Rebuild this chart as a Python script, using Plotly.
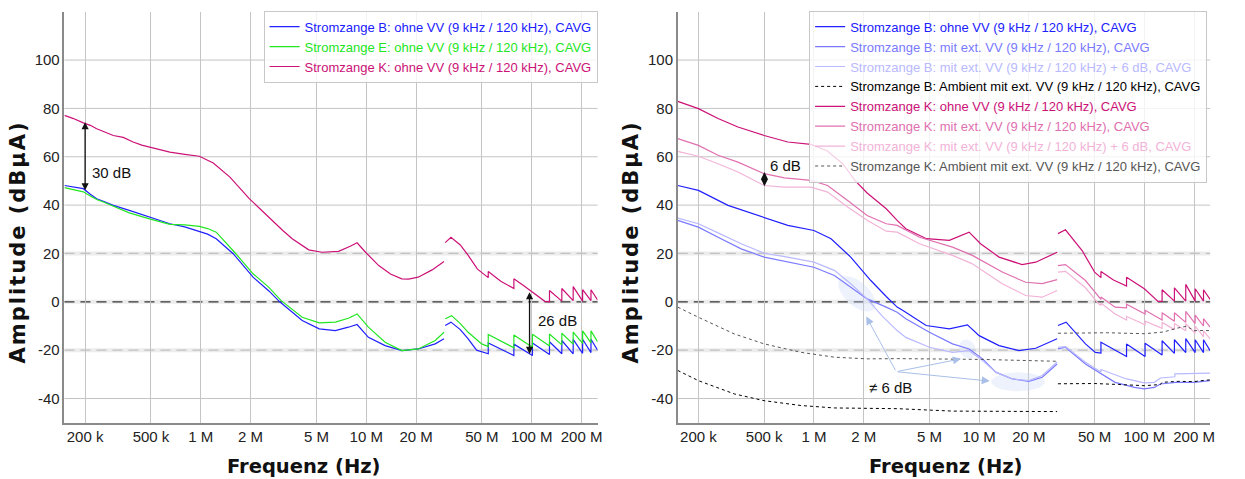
import math
import plotly.graph_objects as go

# ---------------- data: frequency in MHz, amplitude in dBµA ----------------
x_tick_vals_mhz = [0.2, 0.5, 1, 2, 5, 10, 20, 50, 100, 200]
x_tick_text = ["200 k", "500 k", "1 M", "2 M", "5 M", "10 M", "20 M", "50 M", "100 M", "200 M"]
y_tick_vals = [-40, -20, 0, 20, 40, 60, 80, 100]
y_tick_text = ["-40", "-20", "0", "20", "40", "60", "80", "100"]

# ---- left chart ----
left_B_f = [0.15, 0.17, 0.195, 0.215, 0.235, 0.26, 0.296, 0.37, 0.49, 0.65, 0.8, 0.98, 1.1, 1.24, 1.57, 2.07, 2.58, 3.0, 4.1, 5.2, 6.5, 7.8, 8.8, 10.3, 13.0, 16.4, 20.6, 26.1, 29.5, None,
            30.0, 32.5, 37, 41.3, 46.4, 54.6, 54.6, 78, 78, 101, 101, 128, 128, 152, 152, 178, 178, 203, 203, 228, 228, 250]
left_B_v = [48.1, 47.5, 46.8, 44.5, 42.6, 41.5, 39.9, 37.8, 35.0, 32.3, 31.0, 29.1, 28.0, 26.1, 19.9, 10.2, 4.5, 0.0, -7.7, -11.2, -11.9, -10.5, -9.4, -14.7, -18.1, -20.2, -19.5, -17.4, -15.3, None,
            -9.8, -8.4, -11.5, -15.3, -20.0, -21.5, -17.0, -22.2, -17.5, -22.2, -17.0, -21.8, -16.5, -21.5, -16.0, -21.5, -15.5, -21.3, -15.5, -21.0, -15.5, -20.0]

left_E_f = [0.15, 0.17, 0.195, 0.215, 0.235, 0.26, 0.296, 0.37, 0.49, 0.65, 0.8, 0.98, 1.1, 1.24, 1.6, 2.07, 2.58, 3.06, 4.1, 5.2, 6.5, 7.8, 8.8, 10.3, 13.0, 16.4, 20.6, 26.1, 29.5, None,
            30.0, 32.8, 37, 41.3, 49.8, 54.6, 54.6, 78, 78, 101, 101, 128, 128, 152, 152, 178, 178, 203, 203, 228, 228, 250]
left_E_v = [47.2, 46.3, 45.5, 43.8, 42.3, 41.2, 39.5, 36.8, 34.3, 32.0, 31.8, 31.2, 30.3, 28.8, 20.5, 11.6, 6.0, 0.5, -6.4, -8.7, -8.4, -6.8, -5.0, -10.5, -16.7, -20.2, -19.5, -16.0, -12.6, None,
            -7.0, -5.7, -9.0, -12.6, -17.4, -18.5, -13.5, -19.0, -13.7, -18.8, -13.4, -18.3, -13.3, -17.8, -13.0, -17.5, -12.5, -17.2, -12.0, -17.0, -12.0, -16.5]

left_K_f = [0.15, 0.17, 0.195, 0.215, 0.235, 0.26, 0.296, 0.34, 0.39, 0.44, 0.49, 0.56, 0.65, 0.8, 0.98, 1.19, 1.5, 1.97, 2.58, 3.13, 3.57, 4.49, 5.4, 6.8, 8.0, 8.8, 9.9, 11.9, 14.0, 16.4, 18.0, 20.6, 25.0, 29.5, None,
            30.0, 32.5, 37, 41, 47, 54.6, 54.6, 65, 78, 78, 90, 101, 120, 128, 128, 152, 152, 178, 178, 203, 203, 228, 228, 250]
left_K_v = [77.1, 75.8, 74.0, 73.0, 71.6, 70.5, 68.8, 68.0, 66.1, 64.8, 64.0, 62.8, 61.9, 61.0, 60.2, 57.4, 51.6, 42.6, 34.8, 29.5, 26.1, 21.5, 20.5, 20.9, 23.0, 24.4, 20.5, 15.0, 11.5, 9.5, 9.4, 10.2, 13.2, 16.7, None,
            24.5, 26.7, 23.5, 19.5, 13.5, 10.0, 12.5, 8.5, 5.5, 9.5, 6.5, 4.0, 0.2, 0.0, 4.7, 0.3, 5.5, 0.5, 6.3, 0.3, 5.0, 0.5, 5.0, 0.8]

# ---- right chart ----
right_B_ohne_f = [0.15, 0.2, 0.302, 0.5, 0.695, 1.0, 1.27, 1.67, 2.21, 2.74, 3.19, 3.46, 4.78, 6.6, 8.5, 10.0, 13.2, 17.4, 22.0, 29.65, None,
                  30.0, 33.6, 44.0, 50.5, 54.6, 54.6, 78, 78, 101, 101, 128, 128, 152, 152, 178, 178, 203, 203, 228, 228, 250]
right_B_ohne_v = [48.1, 46.1, 39.9, 35.0, 31.6, 29.5, 26.1, 18.5, 8.8, 2.2, -2.2, -3.6, -9.8, -11.2, -9.5, -14.0, -18.1, -20.2, -19.2, -15.3, None,
                  -9.8, -8.4, -17.4, -20.9, -21.2, -16.7, -22.6, -17.4, -22.6, -17.1, -22.0, -16.1, -21.3, -15.7, -21.0, -15.2, -21.0, -15.7, -21.0, -15.7, -20.2]

right_B_mit_f = [0.15, 0.2, 0.263, 0.363, 0.5, 0.695, 1.0, 1.33, 1.67, 2.1, 2.74, 3.19, 3.6, 5.0, 6.9, 8.7, 10.5, 12.6, 15.9, 20.0, 24.1, 29.65, None,
                 30.0, 33.3, 44.0, 55.4, 66.5, 87, 100, 115, 125, 155, 200, 250]
right_B_mit_v = [33.7, 30.9, 26.7, 21.9, 18.5, 16.4, 14.3, 10.9, 6.0, 1.2, -2.2, -4.3, -7.0, -12.6, -17.4, -19.5, -23.6, -29.1, -31.9, -32.9, -31.2, -25.7, None,
                 -19.5, -18.8, -25.7, -29.8, -33.3, -35.4, -36.0, -35.4, -34.0, -33.3, -33.3, -32.6]

right_B_mit6_f = [0.15, 0.2, 0.263, 0.363, 0.5, 0.695, 1.0, 1.33, 1.67, 2.1, 2.6, 3.19, 3.6, 5.0, 6.9, 8.7, 10.5, 12.6, 15.9, 20.0, 24.1, 29.65, None,
                  30.0, 33.3, 44.0, 54.6, 54.6, 66.5, 78, 100, 115, 125, 150, 153, 153, 200, 250]
right_B_mit6_v = [34.6, 32.3, 28.5, 24.0, 20.1, 18.5, 16.4, 13.0, 7.5, 1.2, -6.0, -11.9, -14.7, -18.8, -20.9, -20.2, -24.3, -29.1, -31.9, -32.6, -30.5, -24.9, None,
                  -18.8, -18.5, -25.0, -29.0, -28.0, -30.0, -31.9, -33.5, -33.3, -31.5, -31.0, -31.0, -29.8, -29.8, -29.5]

right_B_amb_f = [0.15, 0.2, 0.33, 0.5, 0.836, 1.33, 3.2, 6.9, 29.65, None,
                 30.0, 50, 70, 100, 125, 128, 160, 200, 230, 250]
right_B_amb_v = [-28.4, -32.6, -38.1, -40.9, -42.9, -43.9, -44.2, -45.2, -45.4, None,
                 -33.9, -33.8, -34.2, -34.7, -34.2, -33.3, -32.9, -33.0, -32.5, -32.3]

right_K_ohne_f = [0.15, 0.2, 0.263, 0.347, 0.5, 0.695, 0.96, 1.2, 1.5, 1.77, 2.1, 2.74, 3.19, 3.6, 4.8, 6.6, 8.7, 10.2, 13.2, 18.2, 22.0, 29.65, None,
                  30.0, 33.3, 42.0, 50.0, 54.6, 54.6, 65, 78, 78, 100, 121, 128, 128, 152, 152, 178, 178, 203, 203, 228, 228, 250]
right_K_ohne_v = [82.9, 79.9, 75.8, 72.3, 68.8, 66.1, 65.1, 62.5, 57.0, 50.2, 45.0, 38.5, 33.7, 30.2, 26.1, 25.4, 28.8, 24.0, 18.5, 15.4, 16.4, 20.5, None,
                  28.2, 29.8, 21.2, 12.3, 10.0, 12.5, 9.0, 6.5, 10.2, 5.4, 0.2, 0.2, 5.0, 0.3, 5.8, 0.3, 7.2, 0.3, 5.4, 0.3, 5.0, 1.0]

right_K_mit_f = [0.15, 0.2, 0.263, 0.347, 0.5, 0.664, 0.96, 1.21, 1.6, 2.1, 2.74, 3.19, 4.36, 6.9, 9.1, 13.8, 19.1, 24.1, 29.65, None,
                 30.0, 33.3, 44.0, 52.8, 54.6, 54.6, 66.5, 78, 78, 101, 101, 128, 128, 152, 152, 178, 178, 203, 203, 228, 228, 250]
right_K_mit_v = [67.5, 64.7, 60.6, 57.8, 53.0, 51.3, 50.2, 48.1, 41.9, 35.7, 32.3, 31.6, 26.7, 22.6, 19.2, 12.3, 8.1, 7.5, 9.2, None,
                 15.0, 15.4, 8.8, 1.9, 1.0, 2.0, -2.2, -2.5, -1.0, -5.0, -3.5, -7.5, -4.5, -8.0, -4.5, -8.5, -4.0, -9.0, -5.5, -10.0, -7.0, -10.5]

right_K_mit6_f = [0.15, 0.2, 0.263, 0.347, 0.5, 0.664, 0.96, 1.21, 1.6, 2.1, 2.74, 3.19, 4.36, 6.9, 9.1, 13.8, 19.1, 24.1, 29.65, None,
                  30.0, 33.3, 44.0, 52.8, 54.6, 54.6, 66.5, 78, 78, 101, 101, 128, 128, 152, 152, 178, 178, 203, 203, 228, 228, 250]
right_K_mit6_v = [62.2, 60.2, 57.1, 53.7, 48.1, 47.4, 47.4, 45.4, 39.2, 33.7, 29.2, 28.8, 24.0, 19.2, 15.7, 7.5, 2.6, 1.9, 4.7, None,
                  12.3, 12.6, 5.8, -0.8, -1.5, -0.5, -5.0, -7.5, -6.0, -9.5, -8.0, -11.0, -8.5, -11.5, -9.0, -12.0, -9.0, -13.0, -10.0, -14.5, -12.0, -15.3]

right_K_amb_f = [0.15, 0.2, 0.33, 0.5, 0.836, 1.33, 2.1, 3.2, 10.0, 29.65, None,
                 30.0, 60, 100, 130, 160, 180, 200, 250]
right_K_amb_v = [-2.2, -6.4, -13.3, -17.4, -20.9, -22.9, -23.6, -23.5, -23.8, -24.6, None,
                 -13.0, -12.8, -13.2, -12.5, -10.8, -10.1, -11.9, -11.9]

# ---------------- styling ----------------
C_B, C_B_MIT, C_B_MIT6 = "#2020ff", "#7a7aff", "#b9b9ff"
C_E = "#22e622"
C_K, C_K_MIT, C_K_MIT6 = "#cc1177", "#e070b0", "#f2b3d7"
C_AMB_B, C_AMB_K = "#000000", "#555555"
FONT = "Liberation Sans, Arial, sans-serif"

W, H = 1245, 479
XL = [64.7 / W, 600 / W]
XR = [680.5 / W, 1215 / W]
YD = [56.3 / H, 467.3 / H]
XRANGE = [math.log10(1.5e5), math.log10(2.5e8)]
YRANGE = [-50, 120]


def hz(fl):
    return [None if f is None else f * 1e6 for f in fl]


def lg(f_mhz):
    return math.log10(f_mhz * 1e6)


fig = go.Figure()


def add_line(f, v, name, color, xa, ya, legend, dash="solid", width=1.2):
    fig.add_trace(go.Scatter(
        x=hz(f), y=v, mode="lines", name=f'<span style="color:{color}">{name}</span>',
        line=dict(color=color, width=width, dash=dash), connectgaps=False,
        xaxis=xa, yaxis=ya, legend=legend, hoverinfo="skip"))


LBL = "(9 kHz / 120 kHz)"
add_line(left_B_f, left_B_v, f"Stromzange B: ohne VV {LBL}, CAVG", C_B, "x", "y", "legend")
add_line(left_E_f, left_E_v, f"Stromzange E: ohne VV {LBL}, CAVG", C_E, "x", "y", "legend")
add_line(left_K_f, left_K_v, f"Stromzange K: ohne VV {LBL}, CAVG", C_K, "x", "y", "legend")

# ellipses (highlight areas) on the right chart, drawn under the curves
px_per_dec = (XR[1] - XR[0]) * W / (XRANGE[1] - XRANGE[0])
px_per_db = (YD[1] - YD[0]) * H / (YRANGE[1] - YRANGE[0])


def ellipse(fc_mhz, vc, a_px, b_px, ang_deg):
    xs, ys = [], []
    t = math.radians(ang_deg)
    for i in range(61):
        p = 2 * math.pi * i / 60
        dx = a_px * math.cos(p) * math.cos(t) - b_px * math.sin(p) * math.sin(t)
        dy = a_px * math.cos(p) * math.sin(t) + b_px * math.sin(p) * math.cos(t)
        xs.append(10 ** (lg(fc_mhz) + dx / px_per_dec))
        ys.append(vc + dy / px_per_db)
    fig.add_trace(go.Scatter(x=xs, y=ys, mode="lines", fill="toself", fillcolor="rgba(200,213,245,0.3)",
                             line=dict(width=0), xaxis="x2", yaxis="y2", showlegend=False, hoverinfo="skip"))


ellipse(1.82, 3.3, 23, 12, -42)
ellipse(8.5, -19.5, 10, 8, -60)
ellipse(17.2, -33.1, 27, 9.5, 0)

add_line(right_B_ohne_f, right_B_ohne_v, f"Stromzange B: ohne VV {LBL}, CAVG", C_B, "x2", "y2", "legend2")
add_line(right_B_mit_f, right_B_mit_v, f"Stromzange B: mit ext. VV {LBL}, CAVG", C_B_MIT, "x2", "y2", "legend2")
add_line(right_B_mit6_f, right_B_mit6_v, f"Stromzange B: mit ext. VV {LBL} + 6 dB, CAVG", C_B_MIT6, "x2", "y2", "legend2")
add_line(right_B_amb_f, right_B_amb_v, f"Stromzange B: Ambient mit ext. VV {LBL}, CAVG", C_AMB_B, "x2", "y2", "legend2", dash="dot", width=1)
add_line(right_K_ohne_f, right_K_ohne_v, f"Stromzange K: ohne VV {LBL}, CAVG", C_K, "x2", "y2", "legend2")
add_line(right_K_mit_f, right_K_mit_v, f"Stromzange K: mit ext. VV {LBL}, CAVG", C_K_MIT, "x2", "y2", "legend2")
add_line(right_K_mit6_f, right_K_mit6_v, f"Stromzange K: mit ext. VV {LBL} + 6 dB, CAVG", C_K_MIT6, "x2", "y2", "legend2")
add_line(right_K_amb_f, right_K_amb_v, f"Stromzange K: Ambient mit ext. VV {LBL}, CAVG", C_AMB_K, "x2", "y2", "legend2", dash="dot", width=1)

# ---------------- axes ----------------
xax = dict(type="log", range=XRANGE, tickvals=[v * 1e6 for v in x_tick_vals_mhz], ticktext=x_tick_text,
           showgrid=True, gridcolor="#c4c4c4", gridwidth=1, zeroline=False, showline=True,
           linecolor="#8a8a8a", linewidth=1.5, ticks="", tickfont=dict(family=FONT, size=15, color="#222"))
yax = dict(range=YRANGE, tickvals=y_tick_vals, ticktext=y_tick_text, showgrid=False, zeroline=False,
           showline=True, linecolor="#8a8a8a", linewidth=1.5, ticks="",
           tickfont=dict(family=FONT, size=15, color="#222"))

fig.update_layout(
    width=W, height=H, margin=dict(l=0, r=0, t=0, b=0),
    paper_bgcolor="white", plot_bgcolor="white",
    xaxis=dict(domain=XL, anchor="y", **xax),
    yaxis=dict(domain=YD, anchor="x", **yax),
    xaxis2=dict(domain=XR, anchor="y2", **xax),
    yaxis2=dict(domain=YD, anchor="x2", **yax),
    legend=dict(x=XL[1], xanchor="right", y=YD[1] + 0.002, yanchor="top", bgcolor="rgba(255,255,255,0.8)",
                bordercolor="#c8c8c8", borderwidth=1, font=dict(family=FONT, size=13), itemwidth=30,
                tracegroupgap=0),
    legend2=dict(x=1212 / W, xanchor="right", y=YD[1] + 0.002, yanchor="top", bgcolor="rgba(255,255,255,0.8)",
                 bordercolor="#c8c8c8", borderwidth=1, font=dict(family=FONT, size=13), itemwidth=30,
                 tracegroupgap=0),
    showlegend=True,
)

# horizontal grid lines (solid for most, dashed with light band at 20 / 0 / -20)
shapes = []
for xr, yr in (("x domain", "y"), ("x2 domain", "y2")):
    for v in (-40, 40, 60, 80, 100):
        shapes.append(dict(type="line", xref=xr, yref=yr, x0=0, x1=1, y0=v, y1=v, layer="below",
                           line=dict(color="#c4c4c4", width=1)))
    for v, c in ((20, "#c0c0c0"), (-20, "#c0c0c0"), (0, "#333333")):
        shapes.append(dict(type="line", xref=xr, yref=yr, x0=0, x1=1, y0=v, y1=v, layer="below",
                           line=dict(color="#ececec", width=4)))
        shapes.append(dict(type="line", xref=xr, yref=yr, x0=0, x1=1, y0=v, y1=v, layer="below",
                           line=dict(color=c, width=1.3, dash="10px,6px")))
fig.update_layout(shapes=shapes)

# ---------------- annotations ----------------
ann = []
# axis titles
for xc in (305 / W, 950 / W):
    ann.append(dict(text="<b>Frequenz (Hz)</b>", xref="paper", yref="paper", x=xc, y=1 - 466.5 / H,
                    xanchor="center", yanchor="middle", showarrow=False,
                    font=dict(family="DejaVu Sans, sans-serif", size=19.5, color="#111")))
for xc in (18.5 / W, 634 / W):
    ann.append(dict(text='<b><span style="letter-spacing:2px">Amplitude (dBµA)</span></b>', xref="paper", yref="paper",
                    x=xc, y=1 - 242 / H, xanchor="center", yanchor="middle", textangle=-90, showarrow=False,
                    font=dict(family="DejaVu Sans, sans-serif", size=21, color="#111")))


def darrow(xa, ya, f_mhz, v0, v1, color="#111"):
    ann.append(dict(xref=xa, yref=ya, axref=xa, ayref=ya, x=lg(f_mhz), y=v1, ax=lg(f_mhz), ay=v0, text="",
                    showarrow=True, arrowhead=2, arrowside="end+start", arrowsize=1.1, arrowwidth=1.3,
                    arrowcolor=color, standoff=0, startstandoff=0))


def label(xa, ya, f_mhz, v, text):
    ann.append(dict(xref=xa, yref=ya, x=lg(f_mhz), y=v, text=text, showarrow=False,
                    xanchor="center", yanchor="middle", font=dict(family=FONT, size=15, color="#111")))


darrow("x", "y", 0.2, 45.5, 74.3)
label("x", "y", 0.29, 53.5, "30 dB")
darrow("x", "y", 97, -22.2, 4.0)
label("x", "y", 144, -7.7, "26 dB")
darrow("x2", "y2", 0.502, 47.2, 53.7)
label("x2", "y2", 0.672, 56.4, "6 dB")
label("x2", "y2", 2.91, -35.4, "≠ 6 dB")
for tf, tv in ((2.075, -6.1), (7.76, -23.6), (11.59, -32.8)):
    ann.append(dict(xref="x2", yref="y2", axref="x2", ayref="y2", x=lg(tf), y=tv, ax=lg(3.15), ay=-28.9,
                    text="", showarrow=True, arrowhead=2, arrowsize=1.6, arrowwidth=1, arrowcolor="#a9bfe8",
                    standoff=0))
fig.update_layout(annotations=ann)

# the page's default 8px body margin would shift the figure; remove it
fig.write_html("out.html", config={"displayModeBar": False},
               post_script="document.body.style.margin='0px';")
